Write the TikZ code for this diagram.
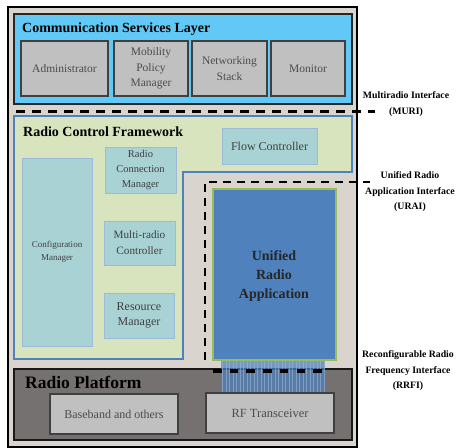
\documentclass[tikz,border=0pt]{standalone}
\usepackage{fontspec}
\setmainfont{Liberation Serif}
\usetikzlibrary{fit,shadows}
\definecolor{framebg}{HTML}{D9D5CE}
\definecolor{cslblue}{HTML}{62C9F6}
\definecolor{boxgrey}{HTML}{C0C0C0}
\definecolor{rcfgreen}{HTML}{D8E4BE}
\definecolor{rcfblue}{HTML}{4F81BD}
\definecolor{tealfill}{HTML}{A9D2D5}
\definecolor{urablue}{HTML}{4F81BD}
\definecolor{uragreen}{HTML}{9BBB59}
\definecolor{platgrey}{HTML}{767171}
\begin{document}
\begin{tikzpicture}[x=1pt,y=-1pt,
  greybox/.style={draw=black!75, line width=1.2pt, fill=boxgrey, inner sep=0pt, align=center, text=black!70, font=\fontsize{11.5}{15.5}\selectfont},
  greytext/.style={align=center, inner sep=0pt, text=black!70, font=\fontsize{11.5}{15.5}\selectfont},
  tealbox/.style={draw=rcfblue!55, line width=0.8pt, fill=tealfill, inner sep=0pt, align=center, text=black!80,
     drop shadow={shadow xshift=0.6pt, shadow yshift=-1.4pt, fill=rcfblue!80, opacity=0.9}},
  tealtext/.style={align=center, inner sep=0pt, text=black!75},
  layertitle/.style={anchor=base west, inner sep=0pt, font=\bfseries\fontsize{14}{16}\selectfont},
  iflabel/.style={align=center, inner sep=0pt, font=\bfseries\fontsize{9.8}{15.5}\selectfont},
  thickdash/.style={line width=3pt, dash pattern=on 9pt off 7pt},
  thindash/.style={line width=1.8pt, dash pattern=on 8pt off 6pt}]
\useasboundingbox (0,0) rectangle (459,448);
% outer frame
\draw[line width=2.5pt, fill=framebg] (8,7) rectangle (357,447);
% communication services layer
\node[fit={(14,14) (352,104)}, inner sep=0pt, draw=black!85, line width=1.8pt, fill=cslblue] (csl) {};
\node[layertitle] (csltitle) at (22,32) {Communication Services Layer};
\node[greybox, fit={(21,41) (108,96)}] (adm) {};
\node[greytext] at (adm.center) (admt) {Administrator};
\node[greybox, fit={(114,41) (188,96)}] (mob) {};
\node[greytext] at (mob.center) (mobt) {Mobility\\Policy\\Manager};
\node[greybox, fit={(192,41) (267,96)}] (net) {};
\node[greytext] at (net.center) (nett) {Networking\\Stack};
\node[greybox, fit={(271,41) (345,96)}] (mon) {};
\node[greytext] at (mon.center) (mont) {Monitor};
% MURI
\coordinate (muriL) at (16,111);
\coordinate (muriR) at (375,111);
\draw[thickdash] (muriL) -- (muriR);
\node[iflabel] (muri) at (406,104) {Multiradio Interface\\(MURI)};
% radio control framework
\draw[line width=1.8pt, draw=rcfblue, fill=rcfgreen] (14,116) -- (352,116) -- (352,172) -- (183,172) -- (183,359) -- (14,359) -- cycle;
\node[layertitle] (rcftitle) at (23,136) {Radio Control Framework};
\node[tealbox, fit={(222,128) (317,164)}] (flow) {};
\node[tealtext, font=\fontsize{12}{15}\selectfont] at (flow.center) (flowt) {Flow Controller};
\node[tealbox, fit={(22,158) (92,346)}] (conf) {};
\node[tealtext, font=\fontsize{9}{13}\selectfont] at (conf.center) (conft) {Configuration\\Manager};
\node[tealbox, fit={(105,147) (176,193)}] (rcm) {};
\node[tealtext, font=\fontsize{10.5}{15}\selectfont] at (rcm.center) (rcmt) {Radio\\Connection\\Manager};
\node[tealbox, fit={(104,221) (175,265)}] (mrc) {};
\node[tealtext, font=\fontsize{11.2}{16}\selectfont] at (mrc.center) (mrct) {Multi-radio\\Controller};
\node[tealbox, fit={(104,293) (174,338)}] (res) {};
\node[tealtext, font=\fontsize{12}{15.5}\selectfont] at (res.center) (rest) {Resource\\Manager};
% URAI
\coordinate (uraiB) at (205,360);
\coordinate (uraiC) at (205,182);
\coordinate (uraiR) at (370,182);
\draw[thindash] (uraiB) -- (uraiC) -- (uraiR);
\node[iflabel] (urai) at (410,192) {Unified Radio\\Application Interface\\(URAI)};
% unified radio application
\node[fit={(213,189) (336,360)}, inner sep=0pt, fill=urablue, draw=uragreen, line width=1.5pt] (ura) {};
\node[align=center, text=black!85, font=\bfseries\fontsize{14}{19}\selectfont] at (274,276) (urat) {Unified\\Radio\\Application};
% radio platform
\node[fit={(14,369) (352,440)}, inner sep=0pt, fill=platgrey, draw=black!90, line width=1.5pt] (plat) {};
\node[layertitle, font=\bfseries\fontsize{17.5}{20}\selectfont] (plattitle) at (25,388) {Radio Platform};
% RRFI band
\node[fit={(221,361) (325,393)}, inner sep=0pt, fill=urablue, fill opacity=0.72] (band) {};
\foreach \x in {222.5,226,...,324}
  \draw[line width=0.6pt, draw=rcfblue!55!white, opacity=0.55] (\x,361) -- (\x,393);
\coordinate (rrfiL) at (213,371);
\coordinate (rrfiR) at (326,371);
\draw[line width=3.6pt, dash pattern=on 8.5pt off 8.2pt] (rrfiL) -- (rrfiR);
\node[iflabel] (rrfi) at (408,371) {Reconfigurable Radio\\Frequency Interface\\(RRFI)};
% platform boxes
\node[greybox, fit={(50,394) (178,434)}] (bb) {};
\node[greytext, font=\fontsize{12}{15}\selectfont] at (bb.center) (bbt) {Baseband and others};
\node[greybox, fit={(206,393) (334,433)}] (rf) {};
\node[greytext, font=\fontsize{12.5}{15}\selectfont] at (rf.center) (rft) {RF Transceiver};
\end{tikzpicture}
\end{document}
